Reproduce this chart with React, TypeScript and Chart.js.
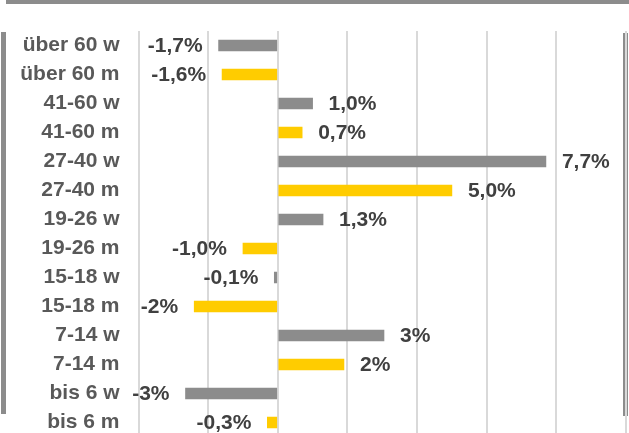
import React, { useEffect, useRef } from "react";
import { Chart, registerables } from "chart.js";

Chart.register(...registerables);

const categories = [
  "über 60 w", "über 60 m", "41-60 w", "41-60 m", "27-40 w", "27-40 m",
  "19-26 w", "19-26 m", "15-18 w", "15-18 m", "7-14 w", "7-14 m", "bis 6 w", "bis 6 m",
];
const values = [-1.7, -1.6, 1.0, 0.7, 7.7, 5.0, 1.3, -1.0, -0.1, -2.4, 3.05, 1.9, -2.65, -0.3];
const valueLabels = [
  "-1,7%", "-1,6%", "1,0%", "0,7%", "7,7%", "5,0%", "1,3%", "-1,0%", "-0,1%", "-2%", "3%", "2%", "-3%", "-0,3%",
];
const xTicks = [-4, -2, 0, 2, 4, 6, 8, 10];

const GRAY = "#8c8c8c";
const YELLOW = "#ffcc00";
const FONT = "'Liberation Sans', Arial, sans-serif";

const decoPlugin = {
  id: "deco",
  beforeDraw(chart: any) {
    const ctx = chart.ctx;
    ctx.save();
    ctx.fillStyle = "#ffffff";
    ctx.fillRect(0, 0, chart.width, chart.height);
    ctx.fillStyle = GRAY;
    ctx.fillRect(6, 0, 623, 4);
    ctx.fillRect(1, 32, 5, 382);
    ctx.fillRect(623, 33, 5, 383);
    ctx.restore();
  },
};

const labelPlugin = {
  id: "valLabels",
  afterDatasetsDraw(chart: any) {
    const ctx = chart.ctx;
    const meta = chart.getDatasetMeta(0);
    ctx.save();
    ctx.font = `bold 21px ${FONT}`;
    ctx.fillStyle = "#404040";
    ctx.textBaseline = "middle";
    meta.data.forEach((bar: any, i: number) => {
      const v = values[i];
      if (v < 0) {
        ctx.textAlign = "right";
        ctx.fillText(valueLabels[i], bar.x - 16, bar.y + 1);
      } else {
        ctx.textAlign = "left";
        ctx.fillText(valueLabels[i], bar.x + 16, bar.y + 1);
      }
    });
    ctx.restore();
  },
};

export default function App() {
  const ref = useRef<HTMLCanvasElement>(null);
  useEffect(() => {
    if (!ref.current) return;
    const chart = new Chart(ref.current, {
      type: "bar",
      data: {
        labels: categories,
        datasets: [
          {
            data: values,
            backgroundColor: categories.map((c) => (c.endsWith("w") ? GRAY : YELLOW)),
            barThickness: 11,
          },
        ],
      },
      options: {
        indexAxis: "y",
        responsive: false,
        animation: false,
        devicePixelRatio: 1,
        layout: { padding: { top: 31, right: 3, bottom: 3, left: 0 } },
        plugins: { legend: { display: false }, tooltip: { enabled: false } },
        scales: {
          x: {
            min: xTicks[0],
            max: xTicks[xTicks.length - 1],
            afterBuildTicks: (s: any) => {
              s.ticks = xTicks.map((v) => ({ value: v }));
            },
            afterFit: (s: any) => {
              s.height = 0;
              s.paddingLeft = 0;
              s.paddingRight = 0;
            },
            ticks: { display: false },
            grid: { color: "#d9d9d9", lineWidth: 2, drawTicks: false },
            border: { display: false },
          },
          y: {
            grid: { display: false, drawTicks: false },
            border: { display: false },
            afterFit: (s: any) => {
              s.width = 138.5;
              s.paddingTop = 0;
              s.paddingBottom = 0;
            },
            ticks: {
              padding: 19,
              color: "#595959",
              font: { family: FONT, size: 21, weight: "bold" },
            },
          },
        },
      },
      plugins: [decoPlugin, labelPlugin],
    });
    return () => chart.destroy();
  }, []);
  return (
    <div style={{ position: "fixed", top: 0, left: 0, width: 629, height: 433, overflow: "hidden", background: "#fff" }}>
      <canvas ref={ref} width={629} height={440} style={{ display: "block" }} />
    </div>
  );
}
